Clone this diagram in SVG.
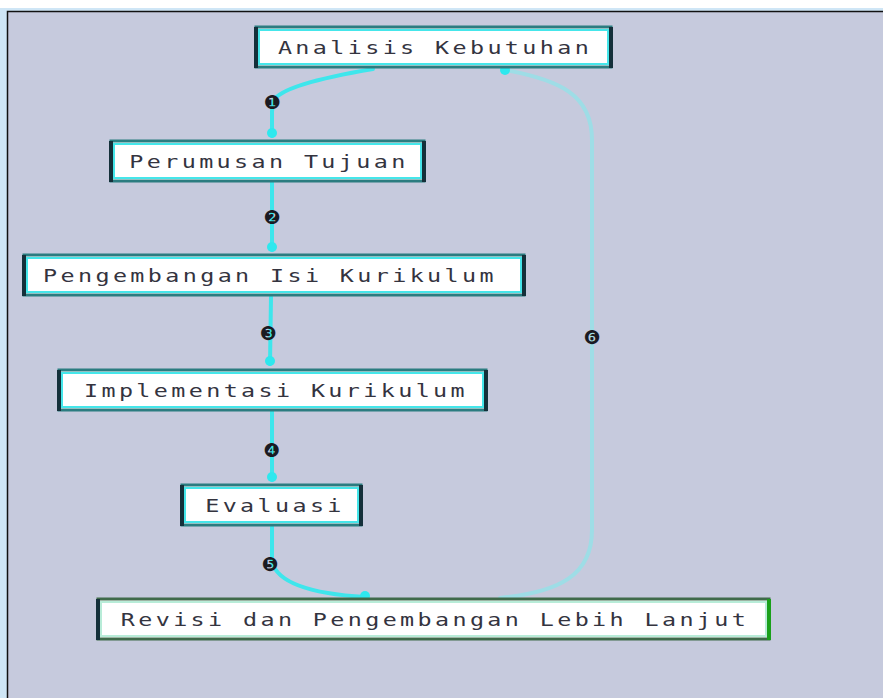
<svg xmlns="http://www.w3.org/2000/svg" width="883" height="698" viewBox="0 0 883 698">
  <defs>
    <style>
      .box { fill: #ffffff; stroke: #2b7c80; stroke-width: 3; }
      .inner { fill: none; stroke: #45e6ea; stroke-width: 2; }
      .end { fill: #14303a; }
      .rbox { fill: #ffffff; stroke: #3f6a4a; stroke-width: 3; }
      .rinner { fill: none; stroke: #b8ecd8; stroke-width: 2; }
      .rend { fill: #1aa01a; }
      .lbl { font-family: "DejaVu Sans Mono", "Liberation Mono", monospace; font-size: 18px; fill: #34343f; letter-spacing: 2.6px; text-anchor: middle; }
      .flow { fill: none; stroke: #3ee6ec; stroke-width: 4; stroke-linecap: round; }
      .back { fill: none; stroke: #9edde6; stroke-width: 4; stroke-linecap: round; }
      .dot { fill: #2ee8ee; }
      .num { font-family: "DejaVu Sans", sans-serif; font-size: 19px; fill: #1a1a22; text-anchor: middle; }
    </style>
  </defs>

  <!-- page and frame -->
  <rect x="0" y="0" width="883" height="698" fill="#ffffff"/>
  <rect x="0" y="8" width="883" height="690" fill="#cfe6f6"/>
  <rect x="7.5" y="11.5" width="880" height="690" fill="#c6cadd" stroke="#111111" stroke-width="1.5"/>

  <!-- connectors -->
  <g id="connectors">
    <path class="flow" d="M373,69 Q 284,84 274,100 Q 272,106 272,112 L272,136"/>
    <circle class="dot" cx="272" cy="133" r="5"/>
    <path class="flow" d="M272,182 L272,250"/>
    <circle class="dot" cx="272" cy="247" r="5"/>
    <path class="flow" d="M271,297 L270,364"/>
    <circle class="dot" cx="270" cy="361" r="5"/>
    <path class="flow" d="M272,411 L272,480"/>
    <circle class="dot" cx="272" cy="477" r="5"/>
    <path class="flow" d="M272,527 L272,562 Q 280,592 365,597"/>
    <circle class="dot" cx="365" cy="596" r="5"/>
    <path class="back" d="M500,598 C 560,592 592,575 592,530 L592,140 C 592,95 560,80 505,70"/>
    <circle class="dot" cx="505" cy="70" r="5"/>

    <text class="num" x="272" y="109">❶</text>
    <text class="num" x="272" y="224">❷</text>
    <text class="num" x="268" y="340">❸</text>
    <text class="num" x="272" y="457">❹</text>
    <text class="num" x="270" y="571">❺</text>
    <text class="num" x="592" y="344">❻</text>
  </g>

  <!-- process steps; labels are widened with a horizontal scale -->
  <g id="analisis">
    <rect class="box" x="256" y="27" width="355" height="40"/>
    <rect class="inner" x="259" y="30" width="349" height="34"/>
    <rect class="end" x="254" y="27" width="4" height="41"/>
    <rect class="end" x="609" y="27" width="4" height="41"/>
    <g transform="translate(435,0) scale(1.3,1)"><text class="lbl" x="0" y="54">Analisis Kebutuhan</text></g>
  </g>

  <g id="perumusan">
    <rect class="box" x="111" y="141" width="313" height="40"/>
    <rect class="inner" x="114" y="144" width="307" height="34"/>
    <rect class="end" x="109" y="141" width="4" height="41"/>
    <rect class="end" x="422" y="141" width="4" height="41"/>
    <g transform="translate(269,0) scale(1.3,1)"><text class="lbl" x="0" y="168">Perumusan Tujuan</text></g>
  </g>

  <g id="pengembangan">
    <rect class="box" x="24" y="255" width="500" height="40"/>
    <rect class="inner" x="27" y="258" width="494" height="34"/>
    <rect class="end" x="22" y="255" width="4" height="41"/>
    <rect class="end" x="522" y="255" width="4" height="41"/>
    <g transform="translate(270,0) scale(1.3,1)"><text class="lbl" x="0" y="282">Pengembangan Isi Kurikulum</text></g>
  </g>

  <g id="implementasi">
    <rect class="box" x="59" y="370" width="427" height="40"/>
    <rect class="inner" x="62" y="373" width="421" height="34"/>
    <rect class="end" x="57" y="370" width="4" height="41"/>
    <rect class="end" x="484" y="370" width="4" height="41"/>
    <g transform="translate(276,0) scale(1.3,1)"><text class="lbl" x="0" y="397">Implementasi Kurikulum</text></g>
  </g>

  <g id="evaluasi">
    <rect class="box" x="182" y="485" width="179" height="40"/>
    <rect class="inner" x="185" y="488" width="173" height="34"/>
    <rect class="end" x="180" y="485" width="4" height="41"/>
    <rect class="end" x="359" y="485" width="4" height="41"/>
    <g transform="translate(275,0) scale(1.3,1)"><text class="lbl" x="0" y="512">Evaluasi</text></g>
  </g>

  <g id="revisi">
    <rect class="rbox" x="98" y="599" width="671" height="40"/>
    <rect class="rinner" x="101" y="602" width="665" height="34"/>
    <rect class="end" x="96" y="599" width="4" height="41"/>
    <rect class="rend" x="767" y="599" width="4" height="41"/>
    <g transform="translate(435,0) scale(1.3,1)"><text class="lbl" x="0" y="626">Revisi dan Pengembangan Lebih Lanjut</text></g>
  </g>
</svg>
